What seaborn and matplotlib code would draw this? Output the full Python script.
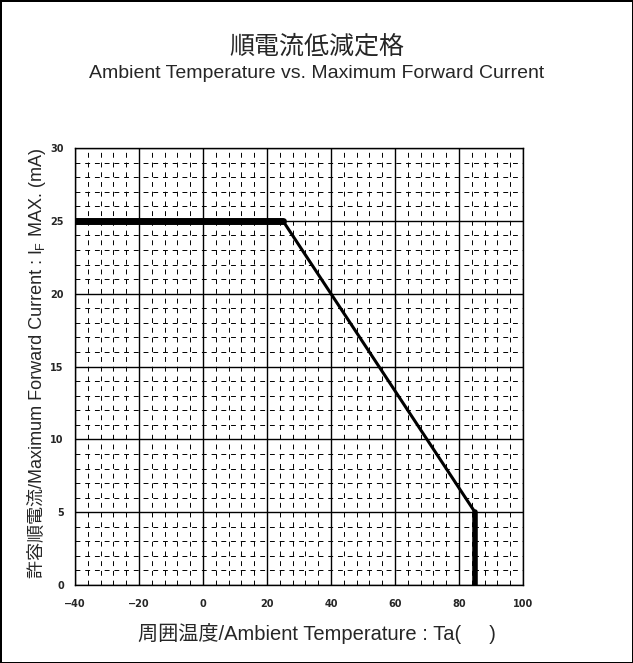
import matplotlib.pyplot as plt
import seaborn as sns
import pandas as pd

# derating curve: ambient temperature (C) vs max forward current (mA)
temp = [-40, 25, 85, 85]
current = [25, 25, 5, 0]
seg_widths = [5, 2.2, 4]

x_ticks = [-40, -20, 0, 20, 40, 60, 80, 100]
y_ticks = [0, 5, 10, 15, 20, 25, 30]

sns.set_style('white')
plt.rcParams['font.family'] = ['Liberation Sans', 'Noto Sans CJK JP', 'DejaVu Sans']

fig = plt.figure(figsize=(6.33, 6.63), dpi=100, linewidth=2, edgecolor='black')
ax = fig.add_axes([0.1185, 0.1176, 0.7077, 0.659])

ax.set_xlim(-40, 100)
ax.set_ylim(0, 30)
ax.set_xticks(x_ticks)
ax.set_yticks(y_ticks)
ax.set_xticks(range(-40, 101, 4), minor=True)
ax.set_yticks(range(0, 31, 1), minor=True)
ax.grid(which='major', color='black', linewidth=1.0)
ax.grid(which='minor', color='black', linewidth=0.7, linestyle=(0, (5, 5)))
ax.tick_params(which='both', length=0)
ax.tick_params(axis='x', labelsize=7, pad=10)
ax.tick_params(axis='y', labelsize=7, pad=8)
for lab in ax.get_xticklabels() + ax.get_yticklabels():
    lab.set_fontweight('bold')
    lab.set_fontfamily('DejaVu Sans')
for sp in ax.spines.values():
    sp.set_color('black')
    sp.set_linewidth(1.0)

df = pd.DataFrame({'temp': temp, 'current': current})
for i, lw in enumerate(seg_widths):
    seg = df.iloc[i:i + 2]
    sns.lineplot(data=seg, x='temp', y='current', ax=ax, color='black',
                 linewidth=lw, sort=False, estimator=None)
ax.set_xlabel('')
ax.set_ylabel('')

fig.text(0.5, 0.044, '周囲温度/Ambient Temperature : Ta(     )',
         ha='center', va='center', fontsize=14.5)

# y label built in pieces so that the subscript F keeps the CJK fallback
ylab_x = 37 / 633
ylab_y0 = 1 - 578 / 663
fs = 13
t1 = fig.text(ylab_x, ylab_y0, '許容順電流/Maximum Forward Current : I',
              rotation=90, ha='center', va='bottom', fontsize=fs)
r = fig.canvas.get_renderer()
bb = t1.get_window_extent(r)
t2 = fig.text(ylab_x + 4 / 633, bb.y1 / fig.bbox.height, 'F',
              rotation=90, ha='center', va='bottom', fontsize=fs * 0.7)
bb2 = t2.get_window_extent(r)
fig.text(ylab_x, bb2.y1 / fig.bbox.height, ' MAX. (mA)',
         rotation=90, ha='center', va='bottom', fontsize=fs)

fig.text(0.5, 0.930, '順電流低減定格', ha='center', va='center', fontsize=18)
fig.text(0.5, 0.889, 'Ambient Temperature vs. Maximum Forward Current',
         ha='center', va='center', fontsize=14)

fig.savefig('out.png', dpi=100)
